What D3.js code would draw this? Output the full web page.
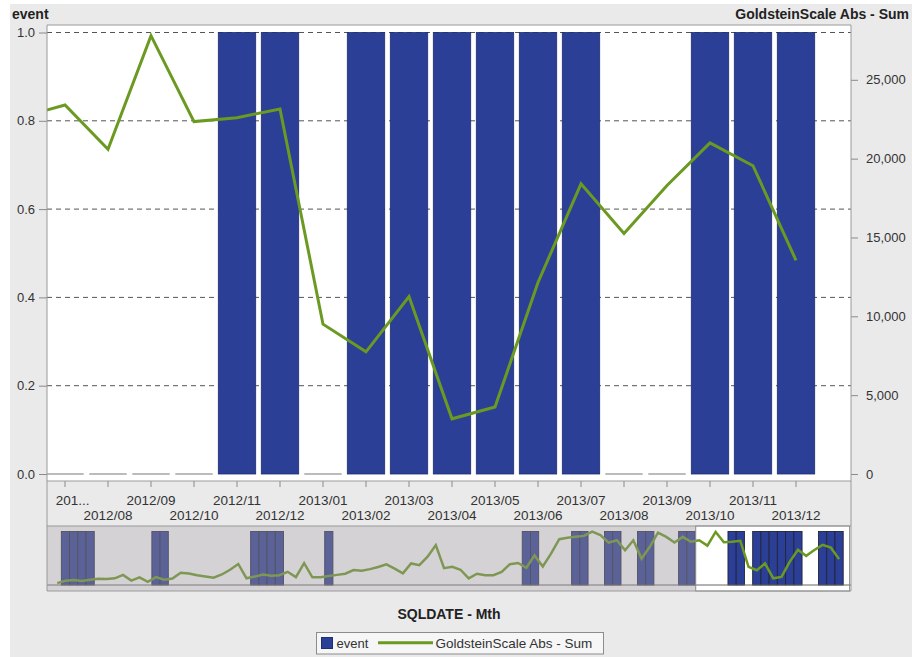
<!DOCTYPE html>
<html><head><meta charset="utf-8">
<script src="https://cdn.jsdelivr.net/npm/d3@7"></script>
<style>
body{margin:0;background:#fff;}
svg{display:block;font-family:"Liberation Sans",Arial,sans-serif;}
</style>
</head><body>
<svg id="c" width="912" height="657"></svg>
<script>
// ---------- DATA ----------
const months = [
"2006/01","2006/02","2006/03","2006/04","2006/05","2006/06","2006/07","2006/08","2006/09","2006/10","2006/11","2006/12",
"2007/01","2007/02","2007/03","2007/04","2007/05","2007/06","2007/07","2007/08","2007/09","2007/10","2007/11","2007/12",
"2008/01","2008/02","2008/03","2008/04","2008/05","2008/06","2008/07","2008/08","2008/09","2008/10","2008/11","2008/12",
"2009/01","2009/02","2009/03","2009/04","2009/05","2009/06","2009/07","2009/08","2009/09","2009/10","2009/11","2009/12",
"2010/01","2010/02","2010/03","2010/04","2010/05","2010/06","2010/07","2010/08","2010/09","2010/10","2010/11","2010/12",
"2011/01","2011/02","2011/03","2011/04","2011/05","2011/06","2011/07","2011/08","2011/09","2011/10","2011/11","2011/12",
"2012/01","2012/02","2012/03","2012/04","2012/05","2012/06","2012/07","2012/08","2012/09","2012/10","2012/11","2012/12",
"2013/01","2013/02","2013/03","2013/04","2013/05","2013/06","2013/07","2013/08","2013/09","2013/10","2013/11","2013/12"
];
const eventValues = [
0,1,1,1,1,0,0,0,0,0,0,0,
1,1,0,0,0,0,0,0,0,0,0,0,
1,1,1,1,0,0,0,0,0,1,0,0,
0,0,0,0,0,0,0,0,0,0,0,0,
0,0,0,0,0,0,0,0,0,1,1,0,
0,0,0,1,1,0,0,1,1,0,0,1,
1,0,0,0,1,1,0,0,0,0,1,1,
0,1,1,1,1,1,1,0,0,1,1,1
];
const goldsteinSum = [
1000,2200,2600,2100,2700,3300,3100,3500,5300,2300,4000,1700,
4100,2800,3400,6400,6000,5100,4500,3800,5500,8000,11000,3500,
4400,5500,4800,5100,6900,4100,11400,4000,4000,4700,5300,5900,
7800,7500,8300,9400,10800,8600,6100,11300,10400,14800,20900,8800,
9500,8000,3500,5900,5100,5100,6800,10900,11500,9000,15500,9700,
16400,24000,24700,25200,25700,27900,26100,22200,23400,18200,23400,13800,
20000,27400,25200,22200,25200,22650,23400,20600,27800,22350,22600,23150,
9500,7750,11250,3500,4250,12150,18400,15250,18300,21000,19550,13550
];
const leftTicks = [0, 0.2, 0.4, 0.6, 0.8, 1.0];
const rightTicks = [0, 5000, 10000, 15000, 20000, 25000];
const leftTitle = "event";
const rightTitle = "GoldsteinScale Abs - Sum";
const xTitle = "SQLDATE - Mth";

// ---------- STYLE / LAYOUT ----------
const NAVY = "#2b3f96", GREEN = "#6b9a22", BG = "#eaeaea", TXT = "#333";
const PL = 47, PR = 851, PT = 25, PB = 481;
const OV_T = 526, OV_B = 591;

const data = months.map((m, i) => ({m, e: eventValues[i], g: goldsteinSum[i]}));
const svg = d3.select("#c");

svg.append("rect").attr("x", 10).attr("y", 4).attr("width", 902).attr("height", 653).attr("fill", BG);

// scales
const xMain = d3.scaleBand().domain(months).range([-3310.5, 817.5]).paddingInner(0.13).paddingOuter(0.065);
const yL = d3.scaleLinear().domain([0, 1]).range([474, 32.5]);
const yR = d3.scaleLinear().domain([0, 28000]).range([474, 32.5]);
const xOv = d3.scaleBand().domain(months).range([53.1, 843.2]).padding(0);
const yOvL = d3.scaleLinear().domain([0, 1]).range([585, 531.5]);
const yOvR = d3.scaleLinear().domain([0, 28000]).range([585, 531.5]);
const bw = xMain.bandwidth();
const cx = m => xMain(m) + bw / 2;

const defs = svg.append("defs");
defs.append("clipPath").attr("id", "cm").append("rect").attr("x", PL).attr("y", PT).attr("width", PR - PL).attr("height", PB - PT);
defs.append("clipPath").attr("id", "co").append("rect").attr("x", PL).attr("y", OV_T).attr("width", PR - PL).attr("height", OV_B - OV_T);

// main plot background
svg.append("rect").attr("x", PL).attr("y", PT).attr("width", PR - PL).attr("height", PB - PT).attr("fill", "#fff");

// grid
svg.append("g").selectAll("line").data(leftTicks.filter(t => t > 0)).join("line")
  .attr("x1", PL).attr("x2", PR).attr("y1", d => yL(d)).attr("y2", d => yL(d))
  .attr("stroke", "#555").attr("stroke-dasharray", "5,4").attr("stroke-width", 1);

const gm = svg.append("g").attr("clip-path", "url(#cm)");
// zero bars
gm.selectAll("line.z").data(data.filter(d => d.e === 0)).join("line").attr("class", "z")
  .attr("x1", d => xMain(d.m)).attr("x2", d => xMain(d.m) + bw)
  .attr("y1", yL(0)).attr("y2", yL(0)).attr("stroke", "#a4a4a4").attr("stroke-width", 1.5);
gm.selectAll("rect.b").data(data.filter(d => d.e > 0)).join("rect").attr("class", "b")
  .attr("x", d => xMain(d.m)).attr("width", bw)
  .attr("y", d => yL(d.e)).attr("height", d => yL(0) - yL(d.e))
  .attr("fill", NAVY).attr("stroke", "#1f2e70").attr("stroke-width", 0.8);
gm.append("path").datum(data)
  .attr("d", d3.line().x(d => cx(d.m)).y(d => yR(d.g)))
  .attr("fill", "none").attr("stroke", GREEN).attr("stroke-width", 3).attr("stroke-linejoin", "miter");

// x axis band
svg.append("rect").attr("x", PL).attr("y", PB).attr("width", PR - PL).attr("height", OV_T - PB).attr("fill", BG);

// axes
const styleAxis = g => {
  g.select(".domain").remove();
  g.selectAll(".tick line").attr("stroke", "#8a8a8a");
  g.selectAll(".tick text").attr("fill", TXT).attr("font-size", 13).attr("font-family", "Liberation Sans, Arial, sans-serif");
};
svg.append("g").attr("transform", `translate(${PL},0)`)
  .call(d3.axisLeft(yL).tickValues(leftTicks).tickFormat(d3.format(".1f")).tickSize(8).tickPadding(4))
  .call(styleAxis);
svg.append("g").attr("transform", `translate(${PR},0)`)
  .call(d3.axisRight(yR).tickValues(rightTicks).tickFormat(d3.format(",")).tickSize(7).tickPadding(8))
  .call(styleAxis);

const visible = months.filter(m => cx(m) > PL && cx(m) < PR);
const gx = svg.append("g").attr("transform", `translate(0,${PB})`)
  .call(d3.axisBottom(xMain).tickValues(visible).tickSize(6))
  .call(styleAxis);
gx.selectAll(".tick text").attr("font-size", 13.5).each(function(d, j) {
  const t = d3.select(this);
  t.attr("dy", null).attr("y", j % 2 === 0 ? 23.5 : 38.5);
  const w = this.getComputedTextLength();
  const c = cx(d);
  if (c - w / 2 < PL + 3) {
    const right = c + w / 2, avail = right - (PL + 3);
    t.attr("text-anchor", "end").attr("x", w / 2);
    let s = d;
    while (s.length > 1 && this.getComputedTextLength() > avail) {
      s = s.slice(0, -1);
      t.text(s + "...");
    }
  }
});

// ---------- overview ----------
svg.append("rect").attr("x", PL).attr("y", OV_T).attr("width", PR - PL).attr("height", OV_B - OV_T).attr("fill", "#fff");
const go = svg.append("g").attr("clip-path", "url(#co)");
go.selectAll("rect").data(data.filter(d => d.e > 0)).join("rect")
  .attr("x", d => xOv(d.m)).attr("width", xOv.bandwidth())
  .attr("y", d => yOvL(d.e)).attr("height", d => yOvL(0) - yOvL(d.e))
  .attr("fill", NAVY).attr("stroke", "#23233a").attr("stroke-width", 0.9);
go.append("line").attr("x1", PL).attr("x2", PR).attr("y1", yOvL(0)).attr("y2", yOvL(0)).attr("stroke", "#666");
go.append("path").datum(data)
  .attr("d", d3.line().x(d => xOv(d.m) + xOv.bandwidth() / 2).y(d => yOvR(d.g)))
  .attr("fill", "none").attr("stroke", GREEN).attr("stroke-width", 2.5);
// window mapped from main visible range
const r0 = xMain.range()[0], r1 = xMain.range()[1], o0 = xOv.range()[0], o1 = xOv.range()[1];
const toOv = p => o0 + (p - r0) * (o1 - o0) / (r1 - r0);
const winX0 = toOv(PL), winX1 = Math.min(PR, toOv(PR));
go.append("rect").attr("x", PL).attr("y", OV_T).attr("width", winX0 - PL).attr("height", OV_B - OV_T)
  .attr("fill", "#9b949b").attr("opacity", 0.42);
svg.append("rect").attr("x", winX0).attr("y", OV_T).attr("width", winX1 - winX0).attr("height", OV_B - OV_T)
  .attr("fill", "none").attr("stroke", "#8a8a8a").attr("stroke-width", 1);

// frame lines
const fr = svg.append("g").attr("stroke", "#9a9a9a").attr("stroke-width", 1);
fr.append("line").attr("x1", PL).attr("x2", PR).attr("y1", PT).attr("y2", PT);
fr.append("line").attr("x1", PL).attr("x2", PR).attr("y1", PB).attr("y2", PB);
fr.append("line").attr("x1", PL).attr("x2", PR).attr("y1", OV_T).attr("y2", OV_T);
fr.append("line").attr("x1", PL).attr("x2", PR).attr("y1", OV_B).attr("y2", OV_B);
fr.append("line").attr("x1", PL).attr("x2", PL).attr("y1", PT).attr("y2", OV_B);
fr.append("line").attr("x1", PR).attr("x2", PR).attr("y1", PT).attr("y2", OV_B);

// titles
svg.append("text").attr("x", 12).attr("y", 19).attr("font-size", 14).attr("font-weight", "bold").attr("fill", "#222").text(leftTitle);
svg.append("text").attr("x", 909).attr("y", 19).attr("text-anchor", "end").attr("font-size", 14).attr("font-weight", "bold").attr("fill", "#222").text(rightTitle);
svg.append("text").attr("x", 449).attr("y", 619).attr("text-anchor", "middle").attr("font-size", 14).attr("font-weight", "bold").attr("fill", "#222").text(xTitle);

// legend
const lg = svg.append("g");
lg.append("rect").attr("x", 316.5).attr("y", 632.5).attr("width", 287).attr("height", 21.5).attr("fill", "#f6f6f6").attr("stroke", "#8c8c8c");
lg.append("rect").attr("x", 321.5).attr("y", 637.5).attr("width", 11).attr("height", 11).attr("fill", NAVY).attr("stroke", "#1f2e70");
lg.append("text").attr("x", 336.5).attr("y", 648).attr("font-size", 13).attr("fill", TXT).text(leftTitle);
lg.append("line").attr("x1", 378).attr("x2", 433).attr("y1", 642.8).attr("y2", 642.8).attr("stroke", GREEN).attr("stroke-width", 3);
lg.append("text").attr("x", 435.5).attr("y", 648).attr("font-size", 13.5).attr("fill", TXT).text(rightTitle);
</script>
</body></html>
